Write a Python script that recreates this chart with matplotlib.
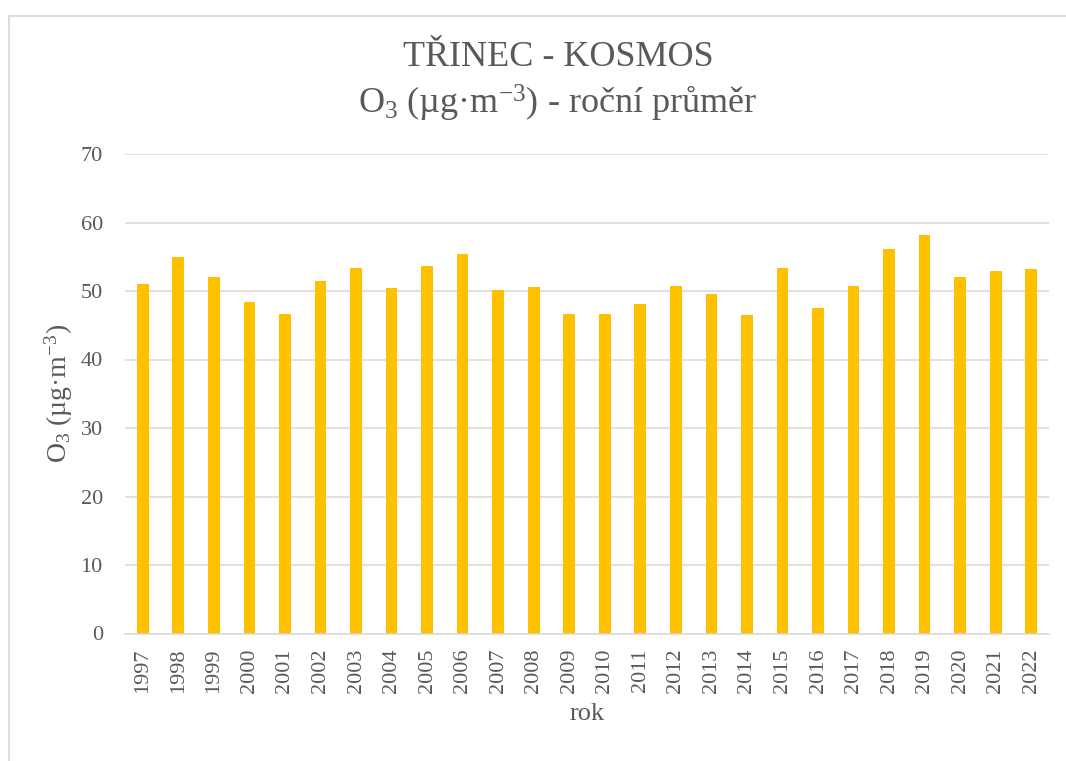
import matplotlib
matplotlib.use("Agg")
import matplotlib.pyplot as plt
from matplotlib.lines import Line2D

years = [str(y) for y in range(1997, 2023)]
values = [51.0, 55.0, 52.0, 48.4, 46.6, 51.4, 53.4, 50.4, 53.7, 55.4,
          50.1, 50.6, 46.7, 46.7, 48.1, 50.8, 49.5, 46.5, 53.3, 47.5,
          50.8, 56.1, 58.2, 52.1, 52.9, 53.2]
yticks = [0, 10, 20, 30, 40, 50, 60, 70]

plt.rcParams['font.family'] = ['Liberation Serif', 'DejaVu Serif']
plt.rcParams['mathtext.fontset'] = 'custom'
plt.rcParams['mathtext.rm'] = 'Liberation Serif'
plt.rcParams['mathtext.it'] = 'Liberation Serif:italic'
plt.rcParams['mathtext.bf'] = 'Liberation Serif:bold'

TXT = '#595959'
GRID = '#d9d9d9'

W, H = 1066, 761
fig = plt.figure(figsize=(W / 100, H / 100), dpi=100)
ax = fig.add_axes([125 / W, 1 - 633.5 / H, (1049 - 125) / W, (633.5 - 154) / H])

x = range(len(years))
ax.bar(x, values, width=0.33, color='#FFC000', zorder=3)

ax.set_xlim(-0.5, len(years) - 0.5)
ax.set_ylim(0, 70)
ax.set_yticks(yticks)
ax.set_xticks(list(x))
ax.set_xticklabels(years, rotation=90)
ax.tick_params(axis='both', length=0, labelsize=16, colors=TXT)
ax.tick_params(axis='y', pad=16)
ax.tick_params(axis='x', pad=11)
ax.grid(axis='y', color=GRID, linewidth=1.1, zorder=0)
for s in ['top', 'right', 'left']:
    ax.spines[s].set_visible(False)
ax.spines['bottom'].set_color(GRID)
ax.spines['bottom'].set_linewidth(1.1)
ax.spines['bottom'].set_zorder(4)

ax.set_xlabel('rok', fontsize=19, color=TXT, labelpad=7)
ax.set_ylabel(r'O$_3$ (µg·m$^{-3}$)', fontsize=20, color=TXT, labelpad=4)

fig.text(558 / W, 1 - 57 / H, 'TŘINEC - KOSMOS', ha='center', va='center',
         fontsize=26, color=TXT)
fig.text(558 / W, 1 - 103 / H, r'O$_3$ (µg·m$^{-3}$) - roční průměr',
         ha='center', va='center', fontsize=26, color=TXT)

bx, by = 8.5 / W, 1 - 15.5 / H
fig.add_artist(Line2D([bx, bx], [0, by], transform=fig.transFigure,
                      color=GRID, linewidth=1.3))
fig.add_artist(Line2D([bx, 1], [by, by], transform=fig.transFigure,
                      color=GRID, linewidth=1.3))

fig.savefig('out.png', dpi=100)
